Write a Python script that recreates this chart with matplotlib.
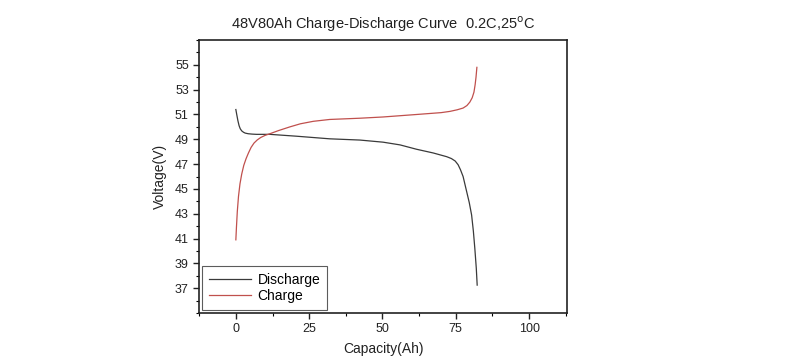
import numpy as np
import matplotlib
matplotlib.use("Agg")
import matplotlib.pyplot as plt
from matplotlib.ticker import MultipleLocator

plt.rcParams['font.family'] = ['Liberation Sans', 'DejaVu Sans']

# discharge curve (Ah, V)
dis_cap = [0, 0.3, 0.7, 1.1, 1.5, 2.0, 2.6, 3.2, 4.2, 5.5, 7, 11.6, 20.7, 32, 42.3, 50.2, 56, 61.6,
           67.3, 71.9, 73.5, 74.8, 75.8, 76.6, 77.5, 78.7, 79.6, 80.4, 81.0, 81.5, 82.0, 82.3]
dis_v = [51.4, 51.0, 50.5, 50.1, 49.85, 49.68, 49.57, 49.5, 49.45, 49.42, 49.4, 49.4, 49.25, 49.04,
         48.94, 48.77, 48.55, 48.2, 47.9, 47.6, 47.45, 47.25, 46.95, 46.55, 46.0, 44.8, 43.9, 42.9,
         41.6, 40.2, 38.6, 37.25]

# charge curve
chg_cap = [0, 0.2, 0.5, 0.9, 1.4, 2.0, 2.7, 3.5, 4.3, 5.2, 6.2, 7.3, 8.5, 10, 11.6, 14.5, 18.4,
           22, 26.4, 32, 42.3, 50.2, 61.6, 70, 73, 75.5, 77.5, 78.8, 79.8, 80.6, 81.2, 81.6, 81.9, 82.2]
chg_v = [40.9, 41.9, 43.2, 44.4, 45.4, 46.2, 46.9, 47.45, 47.9, 48.35, 48.7, 48.95, 49.15, 49.32,
         49.45, 49.7, 50.0, 50.25, 50.45, 50.6, 50.7, 50.8, 51.0, 51.15, 51.25, 51.38, 51.52, 51.72,
         52.0, 52.35, 52.8, 53.4, 54.0, 54.8]

fig = plt.figure(figsize=(8, 3.64), dpi=100)
ax = fig.add_axes([0.249, 0.140, 0.460, 0.750])

ax.plot(dis_cap, dis_v, color='#3a3a3a', lw=0.9, label='Discharge')
ax.plot(chg_cap, chg_v, color='#c0504d', lw=0.9, label='Charge')

ax.set_xlim(-12.5, 113)
ax.set_ylim(35, 57)
ax.xaxis.set_minor_locator(MultipleLocator(12.5))
ax.yaxis.set_minor_locator(MultipleLocator(1))
ax.set_yticks(np.arange(37, 56, 2))
ax.set_xticks([0, 25, 50, 75, 100])

ax.tick_params(which='major', direction='out', length=4, width=1, labelsize=9, colors='#222222')
ax.tick_params(which='minor', direction='out', length=2, width=0.8)
ax.tick_params(top=False, right=False)
for s in ax.spines.values():
    s.set_linewidth(1.2)
    s.set_color('#222222')

ax.set_xlabel('Capacity(Ah)', fontsize=10, color='#222222', labelpad=5)
ax.set_ylabel('Voltage(V)', fontsize=10, color='#222222', labelpad=6)
ax.set_title('48V80Ah Charge-Discharge Curve  0.2C,25$^{\\mathrm{o}}$C', fontsize=10.5,
             color='#222222', pad=8)

leg = ax.legend(loc='lower left', fontsize=10, frameon=True, fancybox=False,
                borderaxespad=0.2, handlelength=3.0, borderpad=0.5,
                labelspacing=0.2, handletextpad=0.5)
leg.get_frame().set_edgecolor('#333333')
leg.get_frame().set_linewidth(0.8)

fig.savefig('out.png', dpi=100)
